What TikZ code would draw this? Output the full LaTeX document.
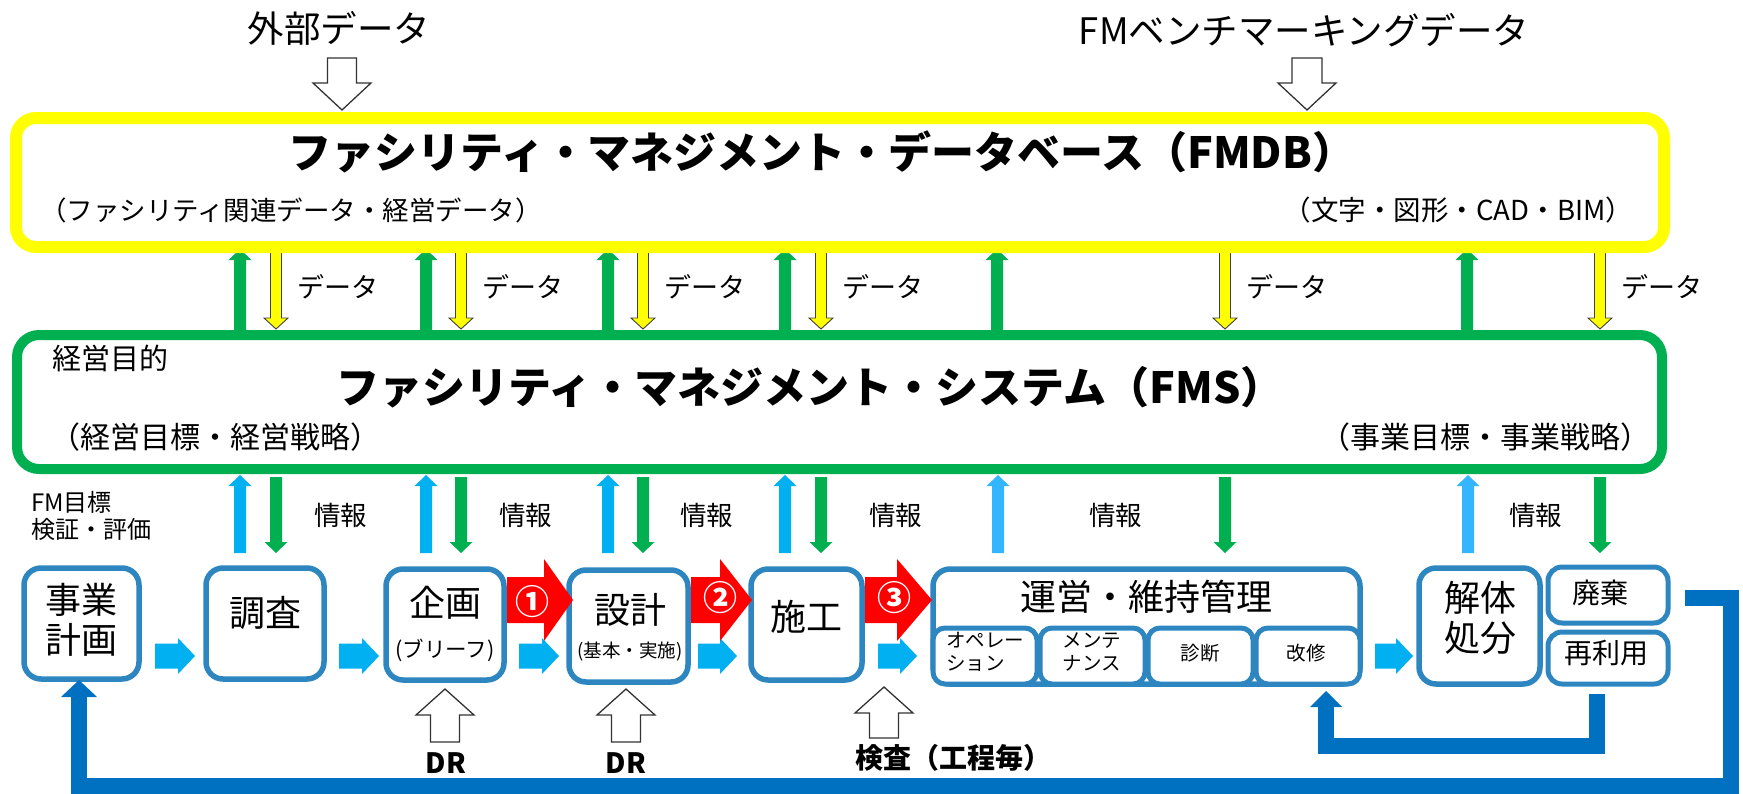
\documentclass[tikz,border=0pt]{standalone}
\usepackage{fontspec}
\setmainfont{Noto Sans CJK JP}
\definecolor{fmyellow}{RGB}{255,255,0}
\definecolor{fmgreen}{RGB}{0,176,80}
\definecolor{fmblue}{RGB}{0,176,240}
\definecolor{fmbluelt}{RGB}{51,182,255}
\definecolor{boxblue}{RGB}{46,134,193}
\definecolor{loopblue}{RGB}{0,112,192}
\definecolor{fmred}{RGB}{255,0,0}
% vertical block arrow: style, x, y start, y tip, shaft half, head half, head length
\newcommand\VArrow[7]{%
  \pgfmathsetmacro\vab{#4-sign(#4-#3)*#7}%
  \path[#1] (#2-#5,#3) -- (#2-#5,\vab) -- (#2-#6,\vab) -- (#2,#4) -- (#2+#6,\vab) -- (#2+#5,\vab) -- (#2+#5,#3) -- cycle;}
% horizontal block arrow: style, y, x start, x tip, shaft half, head half, head length
\newcommand\HArrow[7]{%
  \pgfmathsetmacro\hab{#4-sign(#4-#3)*#7}%
  \path[#1] (#3,#2-#5) -- (\hab,#2-#5) -- (\hab,#2-#6) -- (#4,#2) -- (\hab,#2+#6) -- (\hab,#2+#5) -- (#3,#2+#5) -- cycle;}
\begin{document}
\begin{tikzpicture}[x=1pt,y=-1pt,
  every node/.style={inner sep=0pt,outer sep=0pt},
  t18/.style={font=\fontsize{18.5}{22}\selectfont},
  t19/.style={font=\fontsize{19.5}{23}\selectfont},
  t20/.style={font=\fontsize{21.5}{24}\selectfont},
  t24/.style={font=\fontsize{24}{27}\selectfont},
  t26/.style={font=\fontsize{26.5}{31}\selectfont},
  t27/.style={font=\fontsize{27}{31}\selectfont},
  t28/.style={font=\fontsize{28}{33}\selectfont},
  t29/.style={font=\fontsize{29}{33}\selectfont},
  t30/.style={font=\fontsize{30}{34}\selectfont},
  t36/.style={font=\fontsize{36}{40}\selectfont},
  t37/.style={font=\fontsize{36.5}{40}\selectfont},
  b28/.style={font=\fontsize{28}{33}\selectfont\bfseries},
  b43/.style={font=\fontsize{43}{50}\selectfont\bfseries},
  num/.style={font=\fontsize{34}{38}\selectfont\bfseries,text=white},
  hollow/.style={fill=white,draw=black!80,line width=1.3pt,line join=miter},
  gfill/.style={fill=fmgreen},
  bfill/.style={fill=fmblue},
  bfilllt/.style={fill=fmbluelt},
  yfill/.style={fill=fmyellow,draw=black!75,line width=0.9pt,line join=miter},
  rfill/.style={fill=fmred},
  stagebox/.style={draw=boxblue,line width=5.5pt,fill=white,rounded corners=17pt},
  subbox/.style={draw=boxblue,line width=5pt,fill=white,rounded corners=12pt},
  loopline/.style={draw=loopblue,line width=16pt,line join=miter}
]
\useasboundingbox (0,0) rectangle (1743,793);

% ---------- external data ----------
\node[t37] (ext) at (339,28) {外部データ};
\node[t37] (bench) at (1304,30) {FMベンチマーキングデータ};
\VArrow{hollow}{342}{58}{110}{14.5}{29}{27}
\VArrow{hollow}{1307}{58}{110}{15}{29}{27}

% ---------- arrows between FMDB and FMS ----------
\foreach \x in {240,426,608,785,997,1467} {\VArrow{gfill}{\x}{331}{249}{6}{11.5}{11}}
\foreach \x [count=\i] in {276,461,643,821,1225,1600} {%
  \VArrow{yfill}{\x}{251}{329}{5.5}{12}{11}
  \node[t27,anchor=west] (dl\i) at (\x+21,287) {データ};}

% ---------- arrows between FMS and stages ----------
\foreach \x in {240,426,608,785} {\VArrow{bfill}{\x}{553}{475}{6}{11.5}{11}}
\foreach \x in {998,1468} {\VArrow{bfilllt}{\x}{553}{475}{6}{11.5}{11}}
\foreach \x in {276,461,643,821,1225,1600} {\VArrow{gfill}{\x}{477}{553}{6}{11.5}{11}}
\foreach \x [count=\i] in {314,499,680,869,1089,1509} {\node[t26,anchor=west] (jh\i) at (\x,515) {情報};}
\node[t24,anchor=west,align=left] (fmgoal) at (31,516) {FM目標\\検証・評価};

% ---------- FMDB ----------
\node[draw=fmyellow,line width=12pt,rounded corners=20pt,minimum width=1648pt,minimum height=129pt] (fmdb) at (840,182.5) {};
\node[b43] (fmdbt) at (822,152) {ファシリティ・マネジメント・データベース（FMDB）};
\node[t26,anchor=west] (fmdbl) at (40,210) {（ファシリティ関連データ・経営データ）};
\node[font=\fontsize{27.5}{32}\selectfont,anchor=east] (fmdbr) at (1633,210) {（文字・図形・CAD・BIM）};

% ---------- FMS ----------
\node[draw=fmgreen,line width=10pt,rounded corners=22pt,minimum width=1645pt,minimum height=134pt] (fms) at (839.5,402) {};
\node[t29,anchor=west] (purpose) at (52,358) {経営目的};
\node[b43] (fmst) at (810,387) {ファシリティ・マネジメント・システム（FMS）};
\node[t30,anchor=west] (fmsl) at (50,437) {（経営目標・経営戦略）};
\node[t30,anchor=east] (fmsr) at (1650,437) {（事業目標・事業戦略）};

% ---------- stage boxes ----------
\node[stagebox,minimum width=115pt,minimum height=111pt] (jigyo) at (81.5,623.5) {};
\node[stagebox,minimum width=118pt,minimum height=111pt] (chosa) at (265,623.5) {};
\node[stagebox,minimum width=118pt,minimum height=111pt] (kikaku) at (445,624.5) {};
\node[stagebox,minimum width=119pt,minimum height=112pt] (sekkei) at (628.5,626) {};
\node[stagebox,minimum width=111pt,minimum height=111pt] (seko) at (806.5,624.5) {};
\node[stagebox,minimum width=427pt,minimum height=115pt] (unei) at (1146.5,626.5) {};
\node[subbox,minimum width=104pt,minimum height=56pt] (op) at (985,656) {};
\node[subbox,minimum width=105pt,minimum height=56pt] (mt) at (1092.5,656) {};
\node[subbox,minimum width=105pt,minimum height=56pt] (sd) at (1200.5,656) {};
\node[subbox,minimum width=104pt,minimum height=56pt] (kk) at (1308,656) {};
\node[stagebox,minimum width=121pt,minimum height=116pt] (kaitai) at (1479.5,626) {};
\node[subbox,rounded corners=14pt,minimum width=120pt,minimum height=56pt] (haiki) at (1608,595) {};
\node[subbox,rounded corners=14pt,minimum width=120pt,minimum height=52pt] (sairiyo) at (1608,658) {};

% stage texts
\node[t36,align=center] (jigyot) at (81.5,620) {事業\\計画};
\node[t36] (chosat) at (265,613) {調査};
\node[t36] (kikakut) at (445,603) {企画};
\node[t20] (kikakus) at (445,650) {(ブリーフ)};
\node[t36] (sekkeit) at (630,610) {設計};
\node[t18] (sekkeis) at (630,652) {(基本・実施)};
\node[t36] (sekot) at (806,617) {施工};
\node[t36] (ueit) at (1146,597) {運営・維持管理};
\node[t19,align=left] (opt) at (985,652) {オペレー\\ション};
\node[t19,align=left] (mtt) at (1092,652) {メンテ\\ナンス};
\node[t19] (sdt) at (1200,653) {診断};
\node[t19] (kkt) at (1306,653) {改修};
\node[t36,align=center] (kaitait) at (1480,618) {解体\\処分};
\node[t28] (haikit) at (1600,593) {廃棄};
\node[t28] (sairiyot) at (1606,653) {再利用};

% ---------- flow arrows ----------
\HArrow{bfill}{656}{155}{195}{12.5}{18}{17}
\HArrow{bfill}{656}{339}{379}{12.5}{18}{17}
\HArrow{bfill}{656}{519}{559}{12.5}{18}{17}
\HArrow{bfill}{656}{698}{737}{12.5}{18}{17}
\HArrow{bfill}{656}{878}{917}{12.5}{18}{17}
\HArrow{bfill}{656}{1375}{1413}{12.5}{18}{17}

\HArrow{rfill}{600}{507}{573}{23}{41}{29}
\HArrow{rfill}{600}{691}{752}{23}{41}{32}
\HArrow{rfill}{600}{865}{932}{23}{41}{35}
\node[num] (n1) at (532,602) {①};
\node[num] (n2) at (720,598) {②};
\node[num] (n3) at (894,598) {③};

% ---------- review arrows ----------
\VArrow{hollow}{445}{742}{689}{14.5}{29}{26}
\VArrow{hollow}{626}{742}{689}{14.5}{29}{26}
\VArrow{hollow}{884}{738}{687}{14.5}{29}{26}
\node[b28] (dr1) at (446,763) {DR};
\node[b28] (dr2) at (626,763) {DR};
\node[b28] (insp) at (953,758) {検査（工程毎）};

% ---------- feedback loops ----------
\coordinate (l1s) at (1685,598);
\coordinate (l1a) at (1731,598);
\coordinate (l1b) at (1731,786);
\coordinate (l1c) at (79,786);
\coordinate (l1e) at (79,697);
\draw[loopline] (l1s) -- (l1a) -- (l1b) -- (l1c) -- (l1e);
\fill[loopblue] (61,697) -- (79,680) -- (97,697) -- cycle;
\coordinate (l2s) at (1597,694);
\coordinate (l2a) at (1597,746);
\coordinate (l2b) at (1326,746);
\coordinate (l2e) at (1326,707);
\draw[loopline] (l2s) -- (l2a) -- (l2b) -- (l2e);
\fill[loopblue] (1310,707) -- (1326,691) -- (1342,707) -- cycle;
\end{tikzpicture}
\end{document}
